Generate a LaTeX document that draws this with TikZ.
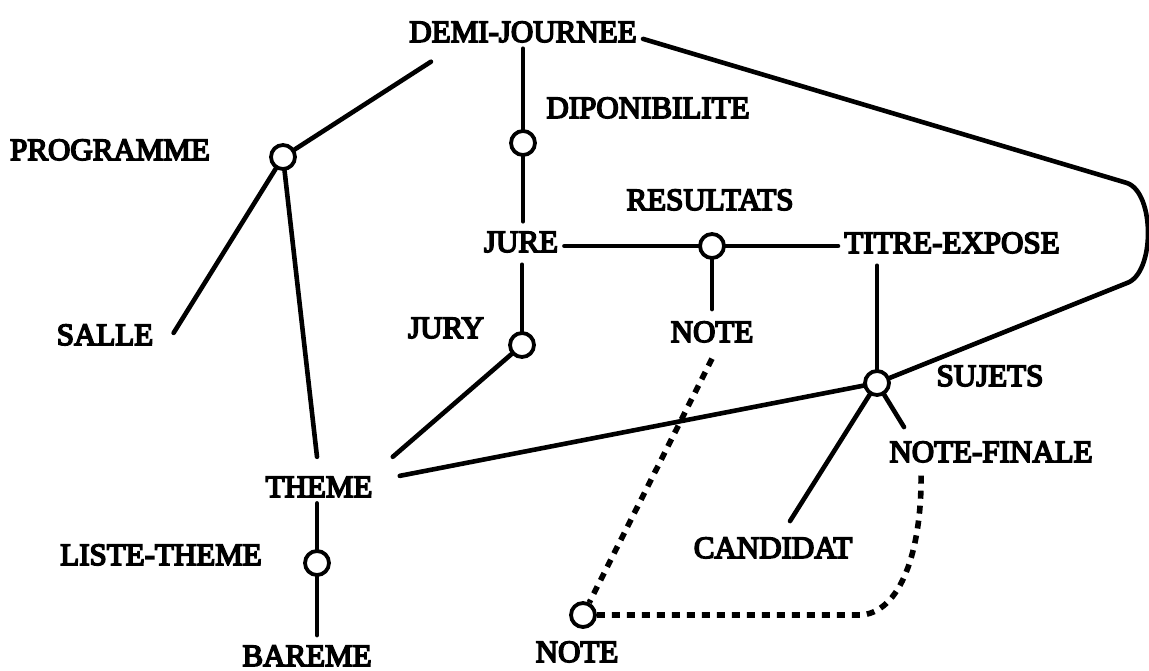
\documentclass[tikz,border=0pt]{standalone}
\usepackage{fontspec}
\setmainfont{Liberation Serif}
\newcommand\heavytext[1]{\special{pdf:literal direct 2 Tr 0.8 w 0 G}#1\special{pdf:literal direct 0 Tr}}
\begin{document}
\begin{tikzpicture}[x=0.5pt,y=-0.5pt,
  lbl/.style={inner sep=3pt, anchor=base, font=\fontsize{15.5}{18}\selectfont},
  rel/.style={circle, draw, line width=1.9pt, minimum size=12pt, inner sep=0pt, fill=white},
  edge/.style={line width=2.3pt, line cap=round},
  dashedge/.style={line width=2.8pt, dash pattern=on 4pt off 3.5pt}
]
\useasboundingbox (0,0) rectangle (1149,670);
% text nodes
\node[lbl] (demi) at (523,42) {\heavytext{DEMI-JOURNEE}};
\node[lbl] (dispo) at (648,118) {\heavytext{DIPONIBILITE}};
\node[lbl] (prog) at (110,160) {\heavytext{PROGRAMME}};
\node[lbl] (salle) at (105,345) {\heavytext{SALLE}};
\node[lbl] (theme) at (319,497) {\heavytext{THEME}};
\node[lbl] (liste) at (161,565) {\heavytext{LISTE-THEME}};
\node[lbl] (bareme) at (307,666) {\heavytext{BAREME}};
\node[lbl] (jure) at (521,252) {\heavytext{JURE}};
\node[lbl] (result) at (710,210) {\heavytext{RESULTATS}};
\node[lbl] (titre) at (952,253) {\heavytext{TITRE-EXPOSE}};
\node[lbl] (jury) at (446,338) {\heavytext{JURY}};
\node[lbl] (noteA) at (712,342) {\heavytext{NOTE}};
\node[lbl] (sujets) at (990,386) {\heavytext{SUJETS}};
\node[lbl] (nf) at (991,462) {\heavytext{NOTE-FINALE}};
\node[lbl] (cand) at (773,558) {\heavytext{CANDIDAT}};
\node[lbl] (noteB) at (577,662) {\heavytext{NOTE}};
% relation circles
\node[rel] (cp) at (283,157) {};
\node[rel] (cd) at (523,143) {};
\node[rel] (cr) at (712,246) {};
\node[rel] (cj) at (522,345) {};
\node[rel] (cs) at (877,383) {};
\node[rel] (cl) at (317,563) {};
\node[rel] (cn) at (583,615) {};
% solid connectors
\draw[edge] (demi.south) -- (cd);
\draw[edge] (cd) -- ([yshift=2pt]cd |- jure.north);
\draw[edge] ([yshift=-3pt]cj |- jure.south) -- (cj);
\draw[edge] (jure.east |- cr) -- (cr);
\draw[edge] (cr) -- (cr -| titre.west);
\draw[edge] (cr) -- ([yshift=3pt]noteA.north);
\draw[edge] ([yshift=-3pt]cs |- titre.south) -- (cs);
\draw[edge] (cp) -- ([xshift=14pt,yshift=-6.5pt]demi.south west);
\draw[edge] (cp) -- ([xshift=7pt,yshift=1pt]salle.east);
\draw[edge] (cp) -- ([xshift=-1pt,yshift=6.75pt]theme.north);
\draw[edge] (cj) -- ([xshift=7pt,yshift=6.75pt]theme.north east);
\draw[edge] (cs) -- ([xshift=10.5pt,yshift=5.5pt]theme.east);
\draw[edge] (cs) -- ([xshift=8.5pt,yshift=5pt]cand.north);
\draw[edge] (cs) -- ([xshift=10.5pt,yshift=4pt]nf.north west);
\draw[edge] (cl |- theme.south) -- (cl);
\draw[edge] (cl) -- ([yshift=2pt]cl |- bareme.north);
\draw[edge] ([yshift=-3.5pt]demi.east) -- (1127,183)
  .. controls (1155,193) and (1155,273) .. (1127,283) -- (cs);
% dashed connectors
\draw[dashedge] ([yshift=-5pt]noteA.south) -- (cn);
\draw[dashedge] (cn) -- (862,615) .. controls (905,610) and (922,540) .. ([xshift=19pt,yshift=-2.5pt]nf.south west);
\end{tikzpicture}
\end{document}
